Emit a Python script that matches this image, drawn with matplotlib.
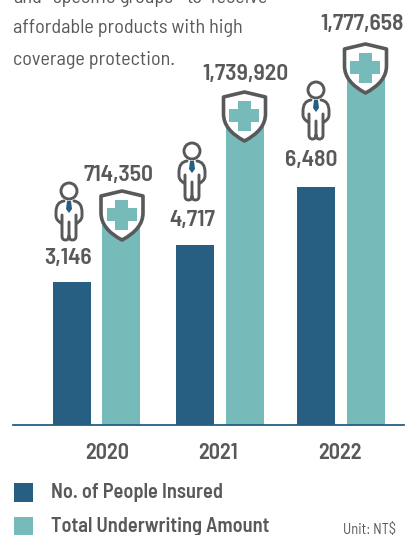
import matplotlib
matplotlib.use('Agg')
import matplotlib.pyplot as plt
from matplotlib.patches import PathPatch, Circle, Rectangle, Polygon
from matplotlib.path import Path
import numpy as np

plt.rcParams['font.family'] = ['Barlow Semi Condensed', 'Roboto', 'DejaVu Sans']

years = ['2020', '2021', '2022']
people_labels = ['3,146', '4,717', '6,480']
amount_labels = ['714,350', '1,739,920', '1,777,658']
# bar heights as drawn in the picture (not to scale with the labels)
people_heights = [143, 180, 238]
amount_heights = [200, 300, 350]
legend_labels = ['No. of People Insured', 'Total Underwriting Amount']

DARK = '#265F82'
TEAL = '#76BBB9'
GREY = '#58595B'


def draw_shield(ax, cx, top):
    """Shield with a cross; cx is the centre, top the upper edge (both in px)"""
    w, h = 21, 49
    verts = [(cx - w, top + 5), (cx, top), (cx + w, top + 5), (cx + w, top + 22),
             (cx + w, top + 38), (cx, top + h),
             (cx - w, top + 38), (cx - w, top + 22), (cx - w, top + 5)]
    codes = [Path.MOVETO, Path.LINETO, Path.LINETO, Path.LINETO,
             Path.CURVE3, Path.CURVE3,
             Path.CURVE3, Path.CURVE3, Path.CLOSEPOLY]
    verts = [(x, 425 - y) for x, y in verts]
    ax.add_patch(PathPatch(Path(verts, codes), fc='white', ec=GREY, lw=2.6, zorder=3, joinstyle='round'))
    cy = 425 - (top + 23.5)
    ax.add_patch(Rectangle((cx - 15, cy - 6.5), 30, 13, fc=TEAL, ec='none', zorder=4))
    ax.add_patch(Rectangle((cx - 6.5, cy - 15), 13, 30, fc=TEAL, ec='none', zorder=4))


def draw_person(ax, cx, top):
    """Outlined person with a blue tie; top is the head's upper edge (px)"""
    def p(dx, dy):
        return (cx + dx, 425 - (top + dy))

    ax.add_patch(Circle(p(0, 9), 8, fc='white', ec=GREY, lw=2.1, zorder=3))
    M, L, C = Path.MOVETO, Path.LINETO, Path.CURVE3
    outline = [
        (M, -5, 19), (C, -13, 20), (C, -13, 30), (L, -13, 34), (C, -13, 38), (C, -8, 41),
        (M, -7, 33), (L, -7, 54), (C, -7, 58), (C, -3.5, 58), (C, 0, 58), (C, 0, 54), (L, 0, 40),
        (M, 0, 54), (C, 0, 58), (C, 3.5, 58), (C, 7, 58), (C, 7, 54), (L, 7, 33),
        (M, 5, 19), (C, 13, 20), (C, 13, 30), (L, 13, 34), (C, 13, 38), (C, 8, 41),
    ]
    path = Path([p(dx, dy) for _, dx, dy in outline], [c for c, _, _ in outline])
    ax.add_patch(PathPatch(path, fc='none', ec=GREY, lw=2.1, zorder=3, capstyle='round'))
    ax.add_patch(Polygon([p(-2, 19), p(2, 19), p(3, 27), p(0, 31), p(-3, 27)],
                         fc=DARK, ec='none', zorder=4))


fig = plt.figure(figsize=(4.06, 5.35), dpi=100)
ax = fig.add_axes([0, 0, 1, 1])
# 1 unit = 1 pixel, zero on the baseline
ax.set_xlim(0, 406)
ax.set_ylim(-110, 425)
ax.axis('off')

people_x = np.array([72, 195, 316])
amount_x = np.array([121, 245, 366])
ax.bar(people_x, people_heights, width=38, color=DARK, zorder=2)
ax.bar(amount_x, amount_heights, width=38, color=TEAL, zorder=2)
ax.plot([13, 404], [0, 0], color=DARK, lw=1.3, zorder=2)

# paragraph above the chart (top line is cut off by the image edge)
for word, x in zip(['and', 'specific', 'groups', 'to', 'receive'], [13, 53, 120, 186, 211]):
    ax.text(x, 425 - (-2), word, fontsize=14.5, color=GREY, va='center', ha='left')
ax.text(13, 425 - 28, 'affordable products with high', fontsize=14.5, color=GREY, va='center')
ax.text(13, 425 - 60, 'coverage protection.', fontsize=14.5, color=GREY, va='center')

people_label_pos = [(68, 258), (192, 220), (311, 160)]
amount_label_pos = [(119, 175), (245, 74), (362, 24)]
for txt, (x, y) in zip(people_labels, people_label_pos):
    ax.text(x, 425 - y, txt, fontsize=17, fontweight='semibold', color=GREY, ha='center', va='center')
for txt, (x, y) in zip(amount_labels, amount_label_pos):
    ax.text(x, 425 - y, txt, fontsize=17, fontweight='semibold', color=GREY, ha='center', va='center')

for cx, top in [(122, 191), (244.5, 92), (365.5, 44)]:
    draw_shield(ax, cx, top)
for cx, top in [(69, 182), (192, 142), (316, 81)]:
    draw_person(ax, cx, top)

for year, x in zip(years, [107, 218, 340]):
    ax.text(x, 425 - 453, year, fontsize=16, fontweight='semibold', color=GREY, ha='center', va='center')

for label, color, y in zip(legend_labels, [DARK, TEAL], [493, 527]):
    ax.add_patch(Rectangle((14, 425 - y - 8.5), 19, 19, fc=color, ec='none'))
    ax.text(51, 425 - y, label, fontsize=14.7, fontweight='semibold', color=GREY, va='center')

ax.text(343, 425 - 530, 'Unit: NT$', fontsize=10.5, color=GREY, va='center')

fig.savefig('out.png', dpi=100)
plt.close(fig)
